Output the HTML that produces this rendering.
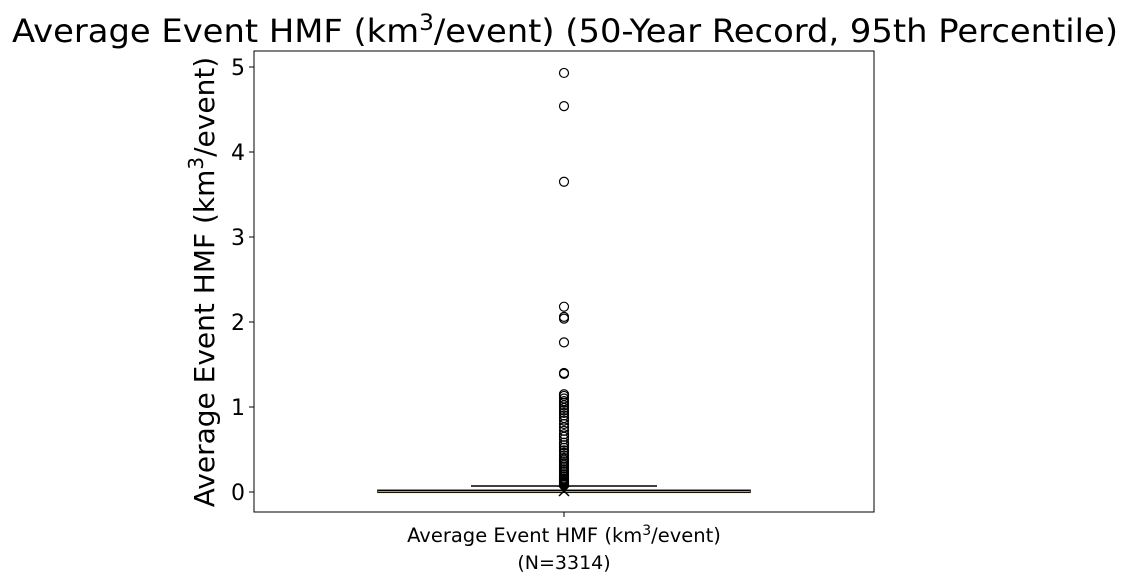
<!DOCTYPE html>
<html><head><meta charset="utf-8"><style>
body{margin:0;background:#fff;}
svg text{font-family:"DejaVu Sans","Liberation Sans",sans-serif;fill:#000;}
</style></head><body>
<svg width="1128" height="581">
<text x="565" y="42" font-size="32" text-anchor="middle" textLength="1106" lengthAdjust="spacingAndGlyphs">Average Event HMF (km<tspan dy="-12" font-size="22">3</tspan><tspan dy="12">/event) (50-Year Record, 95th Percentile)</tspan></text>
<g id="plot"></g>
<rect x="254" y="51" width="620" height="461" fill="none" stroke="#000" stroke-width="1"/>
<text transform="translate(214,282) rotate(-90)" font-size="28" text-anchor="middle">Average Event HMF (km<tspan dy="-11" font-size="20">3</tspan><tspan dy="11">/event)</tspan></text>
<text x="564" y="542" font-size="19.5" text-anchor="middle">Average Event HMF (km<tspan dy="-7" font-size="14">3</tspan><tspan dy="7">/event)</tspan></text>
<text x="564" y="569" font-size="19" text-anchor="middle">(N=3314)</text>
</svg>
<script>
const yTicks=[0,1,2,3,4,5];
const stats=[0,0.005,0.02,0.07,0.0];
const meanVal=[0.012];
const outliers=[4.93,4.54,3.65,2.18,2.06,2.04,1.76,1.40,1.39,1.15,1.13,1.10,1.07,1.05,1.02,0.99,0.96,0.93,0.90,0.87,0.84,0.80,0.76,0.72,0.68,0.65,0.62,0.58,0.55,0.52,0.49,0.46,0.43,0.40,0.38,0.36,0.34,0.32,0.30,0.28,0.26,0.24,0.22,0.20,0.18,0.16,0.15,0.14,0.13,0.12,0.11,0.10,0.09,0.08];
const NS='http://www.w3.org/2000/svg';
const y=v=>492-v*85;
const cx=564;
const g=document.getElementById('plot');
function mk(t,a){const e=document.createElementNS(NS,t);for(const k in a)e.setAttribute(k,a[k]);g.appendChild(e);return e;}
yTicks.forEach(t=>{
 const l=mk('line',{x1:254,x2:249,y1:y(t),y2:y(t),stroke:'#000'});
 
 
 const tx=mk('text',{x:245,y:y(t)+8,'font-size':22,'text-anchor':'end'});tx.textContent=t;
 
 
});
const xt=mk('line',{x1:cx,x2:cx,y1:512,y2:517,stroke:'#000'});


const q1=stats[0], med=stats[1], q3=stats[2], hi=stats[3];
const w=mk('line',{x1:cx,x2:cx,y1:y(q3),y2:y(hi),stroke:'#000'});


const cap=mk('line',{x1:471,x2:657,y1:y(hi),y2:y(hi),stroke:'#000','stroke-width':1.5});


const box=mk('rect',{x:378,y:y(q3),width:372,height:Math.max(2,y(q1)-y(q3)),fill:'none',stroke:'#000','stroke-width':1.5});


const m=mk('line',{x1:378,x2:750,y1:y(med),y2:y(med),stroke:'#c8a000','stroke-width':1.2});


outliers.forEach(v=>{
 const c=mk('circle',{cx:cx,cy:y(v),r:4.5,fill:'none',stroke:'#000','stroke-width':1.2});
 
 
});
const my=y(meanVal[0]);
const mm=mk('path',{d:`M${cx-5},${my-5}L${cx+5},${my+5}M${cx-5},${my+5}L${cx+5},${my-5}`,stroke:'#000','stroke-width':1.5});


</script>
</body></html>
